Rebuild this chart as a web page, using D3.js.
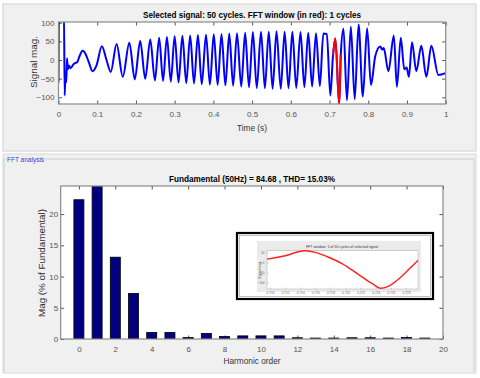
<!DOCTYPE html>
<html>
<head>
<meta charset="utf-8">
<script src="https://cdn.jsdelivr.net/npm/d3@7"></script>
<style>
  body { margin: 0; background: #fff; }
  svg { display: block; font-family: Arial, "Liberation Sans", sans-serif; }
</style>
</head>
<body>
<svg id="chart" width="480" height="378"></svg>
<script>
// top plot: selected signal (peaks/troughs)
const signalT = [0.000, 0.001, 0.014, 0.016, 0.018, 0.020, 0.022, 0.024, 0.027, 0.031, 0.040, 0.048, 0.055, 0.062, 0.068, 0.078, 0.088, 0.098,
  0.112, 0.124, 0.135, 0.150, 0.166, 0.183, 0.197, 0.211, 0.224, 0.237, 0.249,
  0.260, 0.270, 0.280, 0.290, 0.300, 0.310, 0.320, 0.330, 0.340, 0.350, 0.360, 0.370, 0.381, 0.391, 0.401, 0.411, 0.421, 0.431, 0.441, 0.451, 0.461,
  0.472, 0.482, 0.492, 0.502, 0.512, 0.523, 0.533, 0.543, 0.553, 0.563, 0.574, 0.584, 0.594, 0.604, 0.614, 0.625, 0.635, 0.645, 0.655, 0.665, 0.675, 0.684,
  0.693, 0.702, 0.709, 0.715, 0.725, 0.729, 0.736, 0.745, 0.755, 0.765, 0.775, 0.786, 0.797, 0.807, 0.818, 0.831, 0.836, 0.840, 0.852,
  0.866, 0.874, 0.884, 0.893, 0.899, 0.905, 0.913, 0.924, 0.937, 0.950, 0.963, 0.981, 1.000];
const signalV = [-60, 130, 130, -95, -30, -60, 5, -25, -15, -22, -10, -6, 12, 25, 20, -5, -30, -15,
  37, 0, -32, 43, -45, 46, -52, 51, -50, 55, -55,
  60, -56, 62, -58, 64, -60, 65, -62, 66, -63, 67, -65, 68, -66, 69, -67, 70, -68, 71, -69, 72,
  -71, 73, -73, 75, -75, 76, -76, 76, -77, 77, -77, 76, -76, 76, -75, 75, -73, 73, -71, 72, -70, 71,
  70, -95, 13, 58, -120, 14, 84, -108, 89, -105, 95, -98, 85, -67, 10, 36, 28, 32, -30,
  66, -72, 60, -25, -20, -45, 48, -30, 38, -45, 38, -40, -35];
const windowT = [0.709, 0.715, 0.725, 0.729];
const windowV = [13, 58, -120, 14];
const timeTicks = [0, 0.1, 0.2, 0.3, 0.4, 0.5, 0.6, 0.7, 0.8, 0.9, 1];
const magTicks = [-100, -50, 0, 50, 100];

// bottom plot: harmonic spectrum
const harmonicOrder = [0, 1, 2, 3, 4, 5, 6, 7, 8, 9, 10, 11, 12, 13, 14, 15, 16, 17, 18, 19];
const harmonicMag = [22.3, 100, 13.1, 7.3, 1.05, 1.05, 0.25, 0.9, 0.4, 0.5, 0.5, 0.5, 0.2, 0.15, 0.15, 0.2, 0.2, 0.15, 0.25, 0.15];
const orderTicks = [0, 2, 4, 6, 8, 10, 12, 14, 16, 18, 20];
const pctTicks = [0, 5, 10, 15, 20];

// inset: one FFT window cycle
const insetT = [0.7096, 0.7120, 0.7146, 0.7160, 0.7176, 0.7196, 0.7216, 0.7236, 0.7246, 0.7256, 0.7272, 0.7286, 0.7296];
const insetV = [18, 35, 60, 52, 30, -5, -55, -105, -126, -118, -75, -25, 12];
const insetTimeTicks = [0.710, 0.712, 0.714, 0.716, 0.718, 0.720, 0.722, 0.724, 0.726, 0.728];
const insetMagTicks = [-100, -50, 0, 50];

const svg = d3.select('#chart');
const tickCol = '#555';

// panels
svg.append('rect').attr('x', 3).attr('y', 4).attr('width', 473).attr('height', 147)
  .attr('fill', '#f0f0f0').attr('stroke', '#d0d0d0');
svg.append('rect').attr('x', 3).attr('y', 154).attr('width', 473).attr('height', 219)
  .attr('fill', '#f0f0f0').attr('stroke', '#d8d8d8');
svg.append('path').attr('d', 'M4,372V159H6 M44,159H474V372')
  .attr('fill', 'none').attr('stroke', '#d0d0d0');
svg.append('text').attr('x', 7).attr('y', 161.5).attr('font-size', 6.5)
  .attr('fill', '#3b3bd0').text('FFT analysis');

function frame(g, x, y, xTicks, yTicks, fmtX, padY) {
  const [x0, x1] = x.range(), [y0, y1] = y.range();
  g.append('rect').attr('x', x0).attr('y', y1).attr('width', x1 - x0).attr('height', y0 - y1).attr('fill', '#fff');
  const ax = [
    [d3.axisBottom(x).tickValues(xTicks).tickFormat(fmtX).tickPadding(7), `translate(0,${y0})`],
    [d3.axisTop(x).tickValues(xTicks).tickFormat(''), `translate(0,${y1})`],
    [d3.axisLeft(y).tickValues(yTicks).tickPadding(padY), `translate(${x0},0)`],
    [d3.axisRight(y).tickValues(yTicks).tickFormat(''), `translate(${x1},0)`]
  ];
  ax.forEach(([a, t]) => {
    const s = g.append('g').attr('transform', t)
      .call(a.tickSizeInner(-3.5).tickSizeOuter(0));
    s.select('.domain').remove();
    s.selectAll('line').attr('stroke', tickCol);
    s.selectAll('text').attr('fill', tickCol).attr('font-size', 8).attr('font-family', 'Arial, Liberation Sans');
  });
}

function box(g, x, y) {
  const [x0, x1] = x.range(), [y0, y1] = y.range();
  g.append('rect').attr('x', x0).attr('y', y1).attr('width', x1 - x0).attr('height', y0 - y1)
    .attr('fill', 'none').attr('stroke', '#8a8a8a').attr('stroke-width', 1.2);
}

// ---------- top chart ----------
const xT = d3.scaleLinear().domain([0, 1]).range([58.5, 445.7]);
const yT = d3.scaleLinear().domain([-118, 102]).range([104, 22]);
const topG = svg.append('g');
frame(topG, xT, yT, timeTicks, magTicks, d3.format('~g'), 4);
topG.append('clipPath').attr('id', 'clipT').append('rect')
  .attr('x', 58.5).attr('y', 22).attr('width', 387.2).attr('height', 82);

const line = d3.line().curve(d3.curveMonotoneX)
  .x(i => xT(i[0])).y(i => yT(i[1]));
topG.append('path').datum(signalT.map((t, i) => [t, signalV[i]]))
  .attr('clip-path', 'url(#clipT)').attr('fill', 'none')
  .attr('stroke', '#0000ff').attr('stroke-width', 2).attr('d', line);
topG.append('path').datum(windowT.map((t, i) => [t, windowV[i]]))
  .attr('clip-path', 'url(#clipT)').attr('fill', 'none')
  .attr('stroke', '#ff0000').attr('stroke-width', 2).attr('d', line);
box(topG, xT, yT);

topG.append('text').attr('x', 252).attr('y', 18).attr('text-anchor', 'middle')
  .attr('font-size', 9).attr('font-weight', 'bold')
  .attr('textLength', 218).attr('lengthAdjust', 'spacingAndGlyphs')
  .text('Selected signal: 50 cycles. FFT window (in red): 1 cycles');
topG.append('text').attr('x', 252).attr('y', 131).attr('text-anchor', 'middle')
  .attr('font-size', 9).attr('fill', '#333')
  .attr('textLength', 30).attr('lengthAdjust', 'spacingAndGlyphs').text('Time (s)');
topG.append('text').attr('transform', 'translate(37,62) rotate(-90)').attr('text-anchor', 'middle')
  .attr('font-size', 9).attr('fill', '#333')
  .attr('textLength', 52).attr('lengthAdjust', 'spacingAndGlyphs').text('Signal mag.');

// ---------- bottom chart ----------
const xB = d3.scaleLinear().domain([-1, 20]).range([60.7, 443]);
const yB = d3.scaleLinear().domain([0, 24.5]).range([339, 186]);
const botG = svg.append('g');
frame(botG, xB, yB, orderTicks, pctTicks, d3.format('d'), 2.5);
botG.append('clipPath').attr('id', 'clipB').append('rect')
  .attr('x', 60.7).attr('y', 186).attr('width', 382.3).attr('height', 153);
const bw = xB(0.55) - xB(0);
botG.append('g').attr('clip-path', 'url(#clipB)')
  .selectAll('rect').data(harmonicOrder).join('rect')
  .attr('x', d => xB(d) - bw / 2).attr('width', bw)
  .attr('y', (d, i) => yB(harmonicMag[i])).attr('height', (d, i) => yB(0) - yB(harmonicMag[i]))
  .attr('fill', '#000080').attr('stroke', '#000').attr('stroke-width', 0.8);
box(botG, xB, yB);

botG.append('text').attr('x', 252).attr('y', 182).attr('text-anchor', 'middle')
  .attr('font-size', 9).attr('font-weight', 'bold')
  .attr('textLength', 166).attr('lengthAdjust', 'spacingAndGlyphs')
  .text('Fundamental (50Hz) = 84.68 , THD= 15.03%');
botG.append('text').attr('x', 252).attr('y', 364).attr('text-anchor', 'middle')
  .attr('font-size', 9).attr('fill', '#333')
  .attr('textLength', 57).attr('lengthAdjust', 'spacingAndGlyphs').text('Harmonic order');
botG.append('text').attr('transform', 'translate(45,263) rotate(-90)').attr('text-anchor', 'middle')
  .attr('font-size', 9).attr('fill', '#333')
  .attr('textLength', 108).attr('lengthAdjust', 'spacingAndGlyphs').text('Mag (% of Fundamental)');

// ---------- inset ----------
const ins = svg.append('g');
ins.append('rect').attr('x', 237).attr('y', 233).attr('width', 196).attr('height', 66)
  .attr('fill', '#fff').attr('stroke', '#000').attr('stroke-width', 2.2);
ins.append('rect').attr('x', 239.5).attr('y', 235.5).attr('width', 191).attr('height', 61)
  .attr('fill', 'none').attr('stroke', '#999').attr('stroke-width', 0.6);
ins.append('rect').attr('x', 257).attr('y', 241).attr('width', 164).attr('height', 51).attr('fill', '#ebebeb');
const xI = d3.scaleLinear().domain([0.7096, 0.7296]).range([267, 418]);
const yI = d3.scaleLinear().domain([-130, 60]).range([289, 250.7]);
ins.append('rect').attr('x', 267).attr('y', 250.7).attr('width', 151).attr('height', 38.3)
  .attr('fill', '#fff').attr('stroke', '#aaa').attr('stroke-width', 0.5);
const gx = ins.append('g').attr('transform', 'translate(0,289)')
  .call(d3.axisBottom(xI).tickValues(insetTimeTicks).tickFormat(d3.format('.3f')).tickSizeInner(-1.5).tickSizeOuter(0).tickPadding(3));
const gy = ins.append('g').attr('transform', 'translate(267,0)')
  .call(d3.axisLeft(yI).tickValues(insetMagTicks).tickSizeInner(-1.5).tickSizeOuter(0).tickPadding(2.5));
[gx, gy].forEach(s => {
  s.select('.domain').remove();
  s.selectAll('line').attr('stroke', '#888').attr('stroke-width', 0.4);
  s.selectAll('text').attr('fill', '#666').attr('font-size', 3.2);
});
ins.append('path').datum(insetT.map((t, i) => [t, insetV[i]]))
  .attr('fill', 'none').attr('stroke', '#ff2020').attr('stroke-width', 1.4)
  .attr('d', d3.line().curve(d3.curveMonotoneX).x(i => xI(i[0])).y(i => yI(i[1])));
ins.append('text').attr('x', 342).attr('y', 247.5).attr('text-anchor', 'middle')
  .attr('font-size', 3.6).attr('fill', '#333').text('FFT window: 1 of 50 cycles of selected signal');
ins.append('text').attr('transform', 'translate(261,270) rotate(-90)').attr('text-anchor', 'middle')
  .attr('font-size', 3.4).attr('fill', '#555').text('Signal mag.');
</script>
</body>
</html>
